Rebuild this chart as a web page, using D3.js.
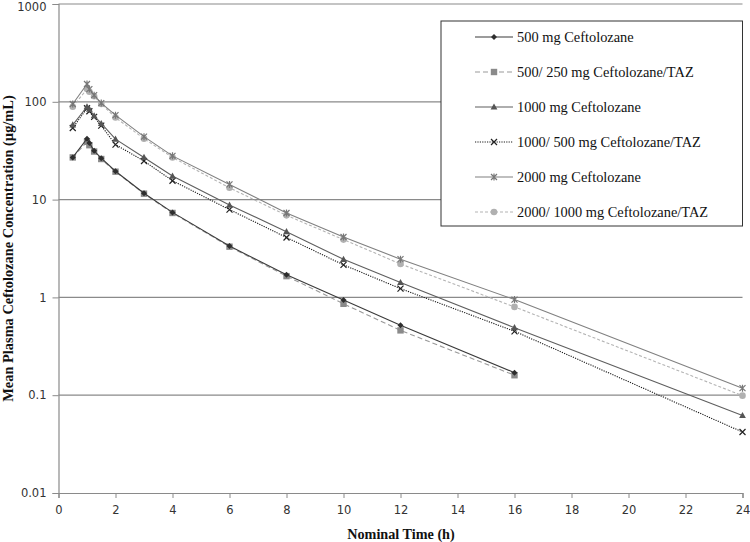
<!DOCTYPE html>
<html><head><meta charset="utf-8">
<script src="https://cdn.jsdelivr.net/npm/d3@7"></script>
<style>body{margin:0;background:#fff}svg{display:block}</style>
</head><body>
<svg id="c" width="750" height="542"></svg>
<script>
const times = [0.5, 1, 1.083, 1.25, 1.5, 2, 3, 4, 6, 8, 10, 12, 16, 24];
const c500 = [27, 42, 38, 31.5, 26.5, 19.5, 11.6, 7.4, 3.35, 1.7, 0.94, 0.52, 0.17];
const c500taz = [27, 39, 36, 31, 26, 19.3, 11.5, 7.3, 3.3, 1.65, 0.86, 0.46, 0.16];
const c1000 = [58, 89, 84, 72, 60, 41.5, 27, 17.4, 8.8, 4.7, 2.45, 1.42, 0.49, 0.062];
const c1000taz = [54, 86, 80, 70, 57, 36.5, 24.8, 15.6, 7.9, 4.1, 2.15, 1.23, 0.45, 0.042];
const c2000 = [95, 152, 135, 117, 97, 73, 44, 28, 14.3, 7.3, 4.15, 2.46, 0.95, 0.118];
const c2000taz = [89, 135, 127, 114, 95, 69, 42, 27, 13.2, 6.9, 3.9, 2.2, 0.8, 0.099];
const seriesNames = ["500 mg Ceftolozane", "500/ 250 mg Ceftolozane/TAZ", "1000 mg Ceftolozane",
  "1000/ 500 mg Ceftolozane/TAZ", "2000 mg Ceftolozane", "2000/ 1000 mg Ceftolozane/TAZ"];
const xTicks = [0, 2, 4, 6, 8, 10, 12, 14, 16, 18, 20, 22, 24];
const yTicks = [0.01, 0.1, 1, 10, 100, 1000];
const yTickLabels = ["0.01", "0.1", "1", "10", "100", "1000"];

const styles = [
  {color: "#3a3a3a", dash: null, marker: "diamond", mcol: "#2e2e2e"},
  {color: "#999999", dash: "5,3", marker: "square", mcol: "#8a8a8a"},
  {color: "#5e5e5e", dash: null, marker: "triangle", mcol: "#555555"},
  {color: "#1a1a1a", dash: "1.2,1.2", marker: "x", mcol: "#222222"},
  {color: "#808080", dash: null, marker: "star", mcol: "#777777"},
  {color: "#b4b4b4", dash: "3,2", marker: "circle", mcol: "#b0b0b0"}
];
const allData = [c500, c500taz, c1000, c1000taz, c2000, c2000taz];

const svg = d3.select("#c");
const L = 58.5, R = 742.5, T = 4, B = 493;
const x = d3.scaleLinear().domain([0, 24]).range([L, R]);
const y = d3.scaleLog().domain([0.01, 1000]).range([B, T]);
const grid = "#8a8a8a";

// gridlines
svg.append("g").selectAll("line").data(yTicks.slice(1)).join("line")
  .attr("x1", L).attr("x2", R).attr("y1", d => y(d)).attr("y2", d => y(d))
  .attr("stroke", grid).attr("stroke-width", 1.2);

// axes
const xAxis = d3.axisBottom(x).tickValues(xTicks).tickSize(5).tickFormat(d3.format("d"));
const gx = svg.append("g").attr("transform", `translate(0,${B})`).call(xAxis);
gx.select(".domain").attr("stroke", grid).attr("stroke-width", 1.2);
gx.selectAll(".tick line").attr("stroke", grid);
gx.selectAll(".tick text").attr("font-family", "DejaVu Sans").attr("font-size", "11.5px")
  .attr("fill", "#333").attr("dy", "1.1em");

const yAxis = d3.axisLeft(y).tickValues(yTicks).tickSize(6).tickFormat((d, i) => yTickLabels[i]);
const gy = svg.append("g").attr("transform", `translate(${L},0)`).call(yAxis);
gy.select(".domain").attr("stroke", grid).attr("stroke-width", 1.2);
gy.selectAll(".tick line").attr("stroke", grid);
gy.selectAll(".tick text").attr("font-family", "DejaVu Sans").attr("font-size", "11.5px")
  .attr("fill", "#333").attr("x", -12)
  .attr("dy", d => d === 1000 ? "0.55em" : "0.32em");

// marker drawing
function drawMarker(g, type, cx, cy, col) {
  const s = 3;
  if (type === "diamond") {
    g.append("path").attr("d", `M${cx},${cy-s}L${cx+s},${cy}L${cx},${cy+s}L${cx-s},${cy}Z`).attr("fill", col);
  } else if (type === "square") {
    g.append("rect").attr("x", cx-3.2).attr("y", cy-3.2).attr("width", 6.4).attr("height", 6.4).attr("fill", col);
  } else if (type === "triangle") {
    g.append("path").attr("d", `M${cx},${cy-3.6}L${cx+3.4},${cy+2.6}L${cx-3.4},${cy+2.6}Z`).attr("fill", col);
  } else if (type === "x") {
    g.append("path").attr("d", `M${cx-3},${cy-3}L${cx+3},${cy+3}M${cx-3},${cy+3}L${cx+3},${cy-3}`)
      .attr("stroke", col).attr("stroke-width", 1.2);
  } else if (type === "star") {
    g.append("path").attr("d", `M${cx-3},${cy-3}L${cx+3},${cy+3}M${cx-3},${cy+3}L${cx+3},${cy-3}M${cx},${cy-3.5}L${cx},${cy+3.5}`)
      .attr("stroke", col).attr("stroke-width", 1.2);
  } else if (type === "circle") {
    g.append("circle").attr("cx", cx).attr("cy", cy).attr("r", 3.3).attr("fill", col);
  }
}

const line = d3.line().x(d => x(d[0])).y(d => y(d[1]));
const order = [5, 4, 1, 0, 3, 2];
order.forEach(i => {
  const pts = allData[i].map((v, j) => [times[j], v]);
  const st = styles[i];
  const g = svg.append("g");
  g.append("path").attr("d", line(pts)).attr("fill", "none").attr("stroke", st.color)
    .attr("stroke-width", 1.1).attr("stroke-dasharray", st.dash);
  pts.forEach(p => drawMarker(g, st.marker, x(p[0]), y(p[1]), st.mcol));
});

// legend
const lg = svg.append("g");
lg.append("rect").attr("x", 441).attr("y", 21).attr("width", 301.5).attr("height", 205)
  .attr("fill", "#fff").attr("stroke", "#333").attr("stroke-width", 1);
seriesNames.forEach((name, i) => {
  const cy = 37 + i * 35, st = styles[i];
  lg.append("line").attr("x1", 475).attr("x2", 513).attr("y1", cy).attr("y2", cy)
    .attr("stroke", st.color).attr("stroke-width", 1.1).attr("stroke-dasharray", st.dash);
  drawMarker(lg, st.marker, 494, cy, st.mcol);
  lg.append("text").attr("x", 517).attr("y", cy + 5).text(name)
    .attr("font-family", "Liberation Serif").attr("font-size", "14.4px").attr("fill", "#111");
});

// axis titles
svg.append("text").attr("x", 401).attr("y", 539).attr("text-anchor", "middle")
  .attr("font-family", "Liberation Serif").attr("font-weight", "bold").attr("font-size", "14.2px")
  .attr("fill", "#111").text("Nominal Time (h)");
svg.append("text").attr("transform", "translate(13,248.5) rotate(-90)").attr("text-anchor", "middle")
  .attr("font-family", "Liberation Serif").attr("font-weight", "bold").attr("font-size", "14.4px")
  .attr("fill", "#111").text("Mean Plasma Ceftolozane Concentration (µg/mL)");
</script>
</body></html>
